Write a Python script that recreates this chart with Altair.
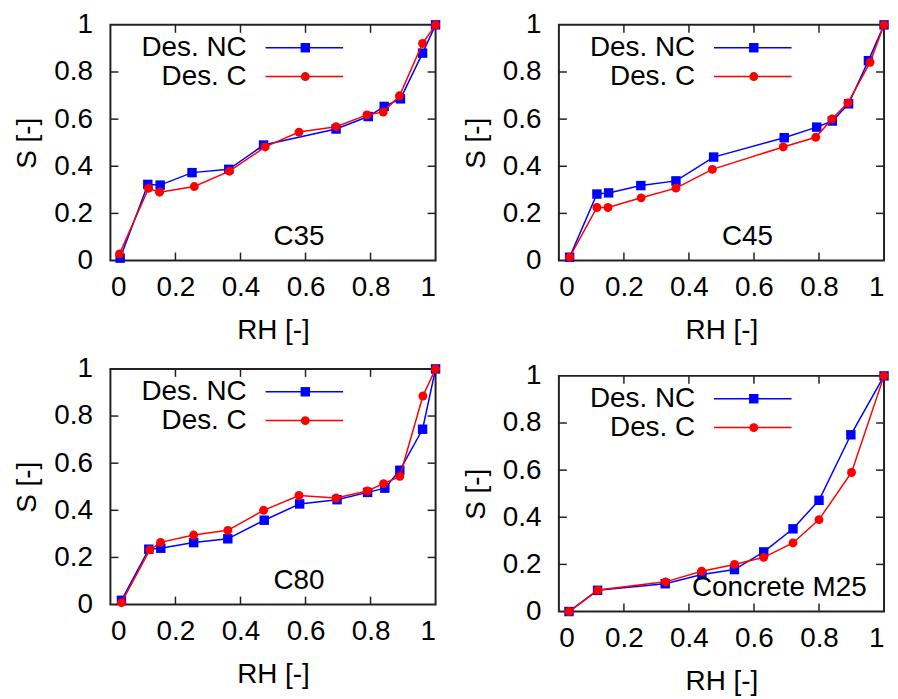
import altair as alt
import pandas as pd

# ---------------- data ----------------
series_names = ["Des. NC", "Des. C"]

c35_rh_nc = [0.03, 0.115, 0.153, 0.251, 0.364, 0.471, 0.694, 0.793, 0.842, 0.892, 0.96, 1.0]
c35_s_nc = [0.01, 0.323, 0.32, 0.373, 0.387, 0.49, 0.558, 0.611, 0.654, 0.686, 0.88, 1.0]
c35_rh_c = [0.028, 0.117, 0.151, 0.258, 0.366, 0.476, 0.58, 0.694, 0.789, 0.839, 0.889, 0.96, 1.0]
c35_s_c = [0.028, 0.306, 0.29, 0.314, 0.379, 0.482, 0.545, 0.568, 0.618, 0.63, 0.699, 0.921, 1.0]

c45_rh_nc = [0.033, 0.117, 0.153, 0.252, 0.36, 0.476, 0.693, 0.793, 0.841, 0.891, 0.952, 1.0]
c45_s_nc = [0.014, 0.282, 0.287, 0.318, 0.338, 0.439, 0.521, 0.566, 0.592, 0.665, 0.848, 1.0]
c45_rh_c = [0.033, 0.117, 0.151, 0.253, 0.36, 0.472, 0.69, 0.79, 0.84, 0.889, 0.957, 1.0]
c45_s_c = [0.014, 0.225, 0.225, 0.266, 0.307, 0.387, 0.482, 0.523, 0.601, 0.669, 0.841, 1.0]

c80_rh_nc = [0.034, 0.118, 0.155, 0.256, 0.361, 0.473, 0.582, 0.697, 0.791, 0.844, 0.89, 0.96, 1.0]
c80_s_nc = [0.018, 0.235, 0.239, 0.263, 0.279, 0.358, 0.427, 0.445, 0.476, 0.494, 0.57, 0.744, 1.0]
c80_rh_c = [0.034, 0.121, 0.154, 0.256, 0.361, 0.471, 0.58, 0.694, 0.79, 0.84, 0.89, 0.961, 1.0]
c80_s_c = [0.008, 0.232, 0.264, 0.295, 0.315, 0.4, 0.463, 0.452, 0.482, 0.513, 0.544, 0.885, 1.0]

m25_rh_nc = [0.031, 0.119, 0.327, 0.44, 0.54, 0.63, 0.72, 0.8, 0.898, 1.0]
m25_s_nc = [0.0, 0.09, 0.118, 0.157, 0.178, 0.253, 0.351, 0.472, 0.75, 1.0]
m25_rh_c = [0.031, 0.12, 0.328, 0.439, 0.54, 0.63, 0.72, 0.8, 0.9, 1.0]
m25_s_c = [0.0, 0.091, 0.126, 0.171, 0.2, 0.23, 0.291, 0.39, 0.59, 1.0]

panel_labels = ["C35", "C45", "C80", "Concrete M25"]
label_rh = [0.58, 0.58, 0.58, 0.678]
label_s = [0.10, 0.10, 0.098, 0.101]

tick_values = [0, 0.2, 0.4, 0.6, 0.8, 1.0]
inner_ticks = [0.2, 0.4, 0.6, 0.8]

# ---------------- style ----------------
W, H = 327, 237
FONT = "Liberation Sans"
FS = 28
BLUE = "#0000ff"
RED = "#ff0000"
TL = 8


def panel(rh_nc, s_nc, rh_c, s_c, label, lx, ly):
    df_nc = pd.DataFrame({"RH": rh_nc, "S": s_nc})
    df_c = pd.DataFrame({"RH": rh_c, "S": s_c})
    df_t = pd.DataFrame({"v": inner_ticks})
    df_lab = pd.DataFrame({"RH": [lx], "S": [ly], "t": [label]})

    xs = alt.Scale(domain=[0, 1], nice=False)
    ys = alt.Scale(domain=[0, 1], nice=False)
    x_axis = alt.Axis(values=tick_values, format="~g", title="RH [-]", ticks=False,
                      tickSize=0, domain=False, grid=False, labelPadding=13,
                      titlePadding=15)
    y_axis = alt.Axis(values=tick_values, format="~g", title="S [-]", ticks=False,
                      tickSize=0, domain=False, grid=False, labelPadding=18,
                      titlePadding=12)

    def X(f):
        return alt.X(f, scale=xs, axis=x_axis)

    def Y(f):
        return alt.Y(f, scale=ys, axis=y_axis)

    base_nc = alt.Chart(df_nc).encode(x=X("RH:Q"), y=Y("S:Q"))
    base_c = alt.Chart(df_c).encode(x=X("RH:Q"), y=Y("S:Q"))
    line_nc = base_nc.mark_line(color=BLUE, strokeWidth=1.5)
    pts_nc = base_nc.mark_point(shape="square", filled=True, size=90, color=BLUE, opacity=1)
    line_c = base_c.mark_line(color=RED, strokeWidth=1.5)
    pts_c = base_c.mark_point(shape="circle", filled=True, size=80, color=RED, opacity=1)

    tick_style = dict(color="#222222", strokeWidth=1.5)
    tb = alt.Chart(df_t).mark_rule(**tick_style).encode(
        x=X("v:Q"), y=alt.value(H), y2=alt.value(H - TL))
    tt = alt.Chart(df_t).mark_rule(**tick_style).encode(
        x=X("v:Q"), y=alt.value(0), y2=alt.value(TL))
    tl = alt.Chart(df_t).mark_rule(**tick_style).encode(
        y=Y("v:Q"), x=alt.value(0), x2=alt.value(TL))
    tr = alt.Chart(df_t).mark_rule(**tick_style).encode(
        y=Y("v:Q"), x=alt.value(W - TL), x2=alt.value(W))

    lab = alt.Chart(df_lab).mark_text(font=FONT, fontSize=FS, color="black",
                                      align="center", baseline="middle").encode(
        x=X("RH:Q"), y=Y("S:Q"), text="t:N")

    # in-plot key
    key_layers = []
    for name, col, shape, size, ky in [(series_names[0], BLUE, "square", 90, 23),
                                       (series_names[1], RED, "circle", 80, 52)]:
        kdf = pd.DataFrame({"name": [name]})
        key_layers.append(alt.Chart(kdf).mark_text(font=FONT, fontSize=FS, color="black",
                                                   align="right", baseline="middle").encode(
            text="name:N", x=alt.value(137), y=alt.value(ky)))
        key_layers.append(alt.Chart(kdf).mark_rule(color=col, strokeWidth=1.5).encode(
            x=alt.value(156), x2=alt.value(234), y=alt.value(ky)))
        key_layers.append(alt.Chart(kdf).mark_point(shape=shape, filled=True, size=size,
                                                    color=col, opacity=1).encode(
            x=alt.value(196), y=alt.value(ky)))

    return alt.layer(line_nc, pts_nc, line_c, pts_c, tb, tt, tl, tr, lab, *key_layers).properties(
        width=W, height=H)


p1 = panel(c35_rh_nc, c35_s_nc, c35_rh_c, c35_s_c, panel_labels[0], label_rh[0], label_s[0])
p2 = panel(c45_rh_nc, c45_s_nc, c45_rh_c, c45_s_c, panel_labels[1], label_rh[1], label_s[1])
p3 = panel(c80_rh_nc, c80_s_nc, c80_rh_c, c80_s_c, panel_labels[2], label_rh[2], label_s[2])
p4 = panel(m25_rh_nc, m25_s_nc, m25_rh_c, m25_s_c, panel_labels[3], label_rh[3], label_s[3])

col1 = alt.vconcat(p1, p3, spacing=9)
col2 = alt.vconcat(p2, p4, spacing=16)

chart = alt.hconcat(col1, col2, spacing=20).properties(
    padding={"left": 5, "top": 0, "right": 0, "bottom": 0}
).configure_view(
    stroke="#222222", strokeWidth=2
).configure_axis(
    labelFont=FONT, labelFontSize=FS, labelColor="black",
    titleFont=FONT, titleFontSize=FS, titleColor="black", titleFontWeight="normal",
)

chart.save("out.html", embed_options={"renderer": "svg", "actions": False})
